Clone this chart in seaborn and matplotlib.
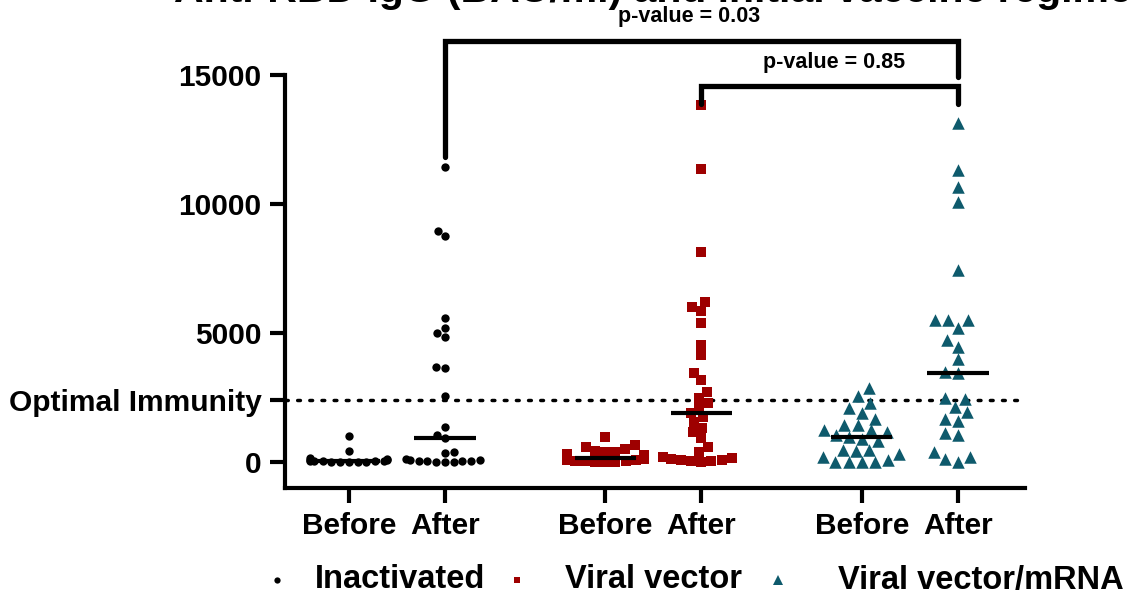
import numpy as np
import pandas as pd
import matplotlib
matplotlib.use("Agg")
import matplotlib.pyplot as plt
from matplotlib.lines import Line2D
import seaborn as sns

# anti-RBD IgG values (BAU/ml)
inactivated_before = [1000, 430, 150, 120, 100, 80, 60, 60, 50, 40, 30, 20, 20, 10, 0, 0]
inactivated_after = [11446, 8950, 8760, 5580, 5190, 5000, 4850, 3680, 3640, 2560, 1360, 1050, 930,
                     390, 350, 120, 100, 80, 60, 50, 40, 30, 20, 10, 0]
vector_before = [970, 650, 600, 520, 450, 400, 380, 300, 280, 250, 220, 200, 180, 160, 150, 130,
                 110, 90, 70, 50, 40, 30, 20, 10, 0]
vector_after = [13837, 11357, 8140, 6200, 6010, 5850, 5390, 4535, 4150, 3450, 3180, 2715, 2480, 2290,
                2095, 1900, 1745, 1550, 1320, 1160, 930, 580, 390, 200, 150, 120, 100, 80, 60, 40, 20]
mrna_before = [2856, 2558, 2300, 2080, 1910, 1690, 1430, 1430, 1240, 1240, 1175, 1050, 980, 880, 830,
               470, 460, 440, 330, 210, 80, 20, 10, 0, 0]
mrna_after = [13127, 11318, 10648, 10090, 7442, 5504, 5504, 5504, 5182, 4729, 4470, 3980, 3500, 3440,
              2470, 2430, 2145, 1950, 1690, 1600, 1136, 1046, 400, 205, 140, 0]

groups = ["Inactivated", "Viral vector", "Viral vector/mRNA"]
timepoints = ["Before", "After"]
values = {
    "Inactivated": [inactivated_before, inactivated_after],
    "Viral vector": [vector_before, vector_after],
    "Viral vector/mRNA": [mrna_before, mrna_after],
}
optimal_immunity = 2400
p_values = ["0.03", "0.85"]

colors = {"Inactivated": "black", "Viral vector": "#9E0000", "Viral vector/mRNA": "#0E5A6C"}
markers = {"Inactivated": "o", "Viral vector": "s", "Viral vector/mRNA": "^"}
sizes = {"Inactivated": 6, "Viral vector": 7, "Viral vector/mRNA": 9}
group_gap = 2.67

sns.set_style("ticks", {"axes.edgecolor": "black", "text.color": "black",
                        "xtick.color": "black", "ytick.color": "black"})
plt.rcParams["font.family"] = ["Liberation Sans", "DejaVu Sans"]
plt.rcParams["font.weight"] = "bold"

fig = plt.figure(figsize=(11.34, 5.98), dpi=100)
ax = fig.add_axes([285 / 1134, 1 - 488 / 598, 740 / 1134, 413 / 598])

tick_pos = []
tick_lab = []
for i, g in enumerate(groups):
    rows = []
    for j, t in enumerate(timepoints):
        pos = i * group_gap + j
        tick_pos.append(pos)
        tick_lab.append(t)
        for v in values[g][j]:
            rows.append({"pos": pos, "value": v})
    df = pd.DataFrame(rows)
    sns.swarmplot(data=df, x="pos", y="value", native_scale=True, orient="x",
                  color=colors[g], marker=markers[g], size=sizes[g], linewidth=0,
                  ax=ax, zorder=3)
    for j in range(2):
        pos = i * group_gap + j
        med = np.median(values[g][j])
        ax.hlines(med, pos - 0.32, pos + 0.32, color="black", lw=3, zorder=4)

ax.axhline(optimal_immunity, color="black", lw=2.5, linestyle=(0, (0.8, 2.7)),
           dash_capstyle="round", zorder=1)

ax.set_xlim(-0.665, 7.04)
ax.set_ylim(-1000, 15000)
ax.set_xticks(tick_pos)
ax.set_xticklabels(tick_lab)
ax.set_yticks([0, optimal_immunity, 5000, 10000, 15000])
ax.set_yticklabels(["0", "Optimal Immunity", "5000", "10000", "15000"])
ax.set_xlabel("")
ax.set_ylabel("")
sns.despine(ax=ax)
for s in ["left", "bottom"]:
    ax.spines[s].set_linewidth(3)
    ax.spines[s].set_color("black")
ax.tick_params(axis="both", width=3, length=11, labelsize=21.5, pad=6, colors="black")
for lab in ax.get_xticklabels() + ax.get_yticklabels():
    lab.set_fontweight("bold")

# significance brackets
x_ina_after = 1
x_vec_after = group_gap + 1
x_mrna_after = 2 * group_gap + 1
ax.plot([x_ina_after, x_ina_after, x_mrna_after, x_mrna_after], [11820, 16320, 16320, 14920],
        color="black", lw=3.8, clip_on=False, solid_joinstyle="miter", zorder=5)
ax.plot([x_vec_after, x_vec_after, x_mrna_after, x_mrna_after], [13880, 14570, 14570, 13880],
        color="black", lw=3.8, clip_on=False, solid_joinstyle="miter", zorder=5)
ax.text(3.545, 17250, f"p-value = {p_values[0]}", ha="center", va="center",
        fontsize=15.5, fontweight="bold", clip_on=False)
ax.text(5.05, 15500, f"p-value = {p_values[1]}", ha="center", va="center",
        fontsize=15.5, fontweight="bold", clip_on=False)

# title, mostly cut off at the top of the image as in the source
fig.text(174 / 1134, 1 - 2 / 598, "Anti-RBD IgG (BAU/ml) and initial vaccine regimen",
         ha="left", va="baseline", fontsize=29.5, fontweight="bold", color="black")

# legend laid out by hand (handle / label spacing is uneven in the source)
leg_y = 1 - 580 / 598
marker_x = [277, 517, 778]
label_x = [315, 565, 838]
msize = [4.5, 5, 6.5]
for g, mx, lx, ms in zip(groups, marker_x, label_x, msize):
    fig.add_artist(Line2D([mx / 1134], [leg_y], transform=fig.transFigure, linestyle="none",
                          marker=markers[g], color=colors[g], markersize=ms, markeredgewidth=0))
    fig.text(lx / 1134, leg_y, g, ha="left", va="center", fontsize=23.5, fontweight="bold")

fig.savefig("out.png", dpi=100)
